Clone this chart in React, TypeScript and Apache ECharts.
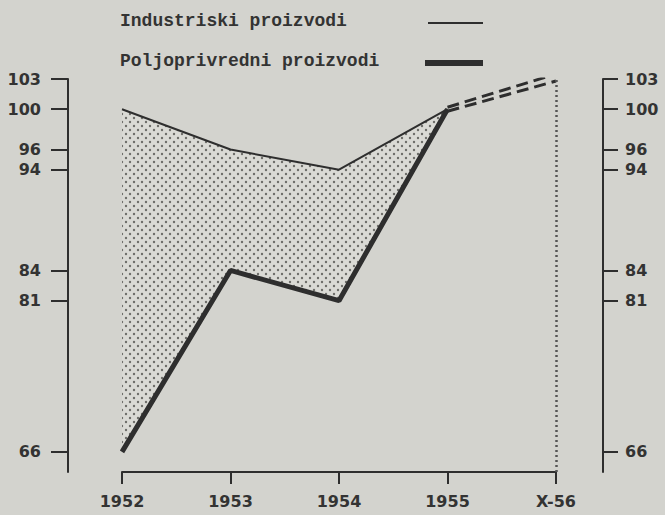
import React, { useEffect, useRef } from 'react';
import * as echarts from 'echarts';

const years = ['1952', '1953', '1954', '1955', 'X-56'];
const industrial: (number | null)[] = [100, 96, 94, 100, null];
const agricultural: (number | null)[] = [66, 84, 81, 100, null];
const industrialForecast: (number | null)[] = [null, null, null, 100.2, 103.5];
const agriculturalForecast: (number | null)[] = [null, null, null, 99.8, 102.8];
const yTicks = [66, 81, 84, 94, 96, 100, 103];
const legendLabels = ['Industriski proizvodi', 'Poljoprivredni proizvodi'];

const INK = '#2e2e2e';
const PAPER = '#d3d3ce';

function makePattern(): HTMLCanvasElement {
  const c = document.createElement('canvas');
  c.width = 8;
  c.height = 8;
  const ctx = c.getContext('2d')!;
  ctx.fillStyle = '#dadad5';
  ctx.fillRect(0, 0, 8, 8);
  ctx.fillStyle = '#6e6e6a';
  ctx.beginPath();
  ctx.arc(2, 2, 1.2, 0, Math.PI * 2);
  ctx.fill();
  ctx.beginPath();
  ctx.arc(6, 6, 1.2, 0, Math.PI * 2);
  ctx.fill();
  return c;
}

export default function App() {
  const ref = useRef<HTMLDivElement>(null);
  useEffect(() => {
    if (!ref.current) return;
    const chart = echarts.init(ref.current, null, { renderer: 'svg' });
    const diff = industrial.map((v, i) =>
      v == null || agricultural[i] == null ? null : (v as number) - (agricultural[i] as number)
    );
    const pattern = makePattern();
    const numFont = { fontFamily: 'DejaVu Sans', fontWeight: 'bold', fontSize: 16, color: '#333' };
    chart.setOption({
      animation: false,
      backgroundColor: PAPER,
      grid: { left: 122, right: 109, top: 79, bottom: 43 },
      graphic: [
        {
          type: 'text', left: 120, top: 12,
          style: { text: legendLabels[0], fontFamily: 'Liberation Mono', fontWeight: 'bold', fontSize: 18, fill: '#333' },
        },
        {
          type: 'text', left: 120, top: 52,
          style: { text: legendLabels[1], fontFamily: 'Liberation Mono', fontWeight: 'bold', fontSize: 18, fill: '#333' },
        },
        { type: 'line', shape: { x1: 428, y1: 23, x2: 483, y2: 23 }, style: { stroke: INK, lineWidth: 2 } },
        { type: 'line', shape: { x1: 425, y1: 63, x2: 483, y2: 63 }, style: { stroke: INK, lineWidth: 6 } },
      ],
      xAxis: {
        type: 'category',
        data: years,
        boundaryGap: false,
        axisLine: { lineStyle: { color: INK, width: 2 } },
        axisTick: { length: 12, lineStyle: { color: INK, width: 2 } },
        axisLabel: { ...numFont, margin: 21 },
        splitLine: { show: false },
      },
      yAxis: [
        {
          type: 'value', min: 64, max: 103, position: 'left', offset: 54,
          axisLine: { show: true, lineStyle: { color: INK, width: 2 } },
          axisTick: { show: true, length: 17, customValues: yTicks, lineStyle: { color: INK, width: 2 } },
          axisLabel: { ...numFont, lineHeight: 16, margin: 27, customValues: yTicks },
          splitLine: { show: false },
        },
        {
          type: 'value', min: 64, max: 103, position: 'right', offset: 47,
          axisLine: { show: true, lineStyle: { color: INK, width: 2 } },
          axisTick: { show: true, length: 15, customValues: yTicks, lineStyle: { color: INK, width: 2 } },
          axisLabel: { ...numFont, lineHeight: 16, margin: 22, customValues: yTicks },
          splitLine: { show: false },
        },
      ],
      series: [
        {
          type: 'line', data: agricultural, stack: 'band', symbol: 'none', silent: true,
          lineStyle: { opacity: 0 }, z: 1,
        },
        {
          type: 'line', data: diff, stack: 'band', symbol: 'none', silent: true,
          lineStyle: { opacity: 0 }, z: 1,
          areaStyle: { color: { image: pattern, repeat: 'repeat' }, opacity: 1 },
          markLine: {
            silent: true, symbol: 'none', label: { show: false },
            lineStyle: { type: [2, 3], color: '#555', width: 2.5 },
            data: [{ xAxis: 'X-56' }],
          },
        },
        {
          name: legendLabels[0], type: 'line', data: industrial, symbol: 'none', z: 3,
          lineStyle: { color: INK, width: 2 },
        },
        {
          name: legendLabels[1], type: 'line', data: agricultural, symbol: 'none', z: 3,
          lineStyle: { color: INK, width: 5 },
        },
        {
          type: 'line', data: industrialForecast, symbol: 'none', z: 3,
          lineStyle: { color: INK, width: 3, type: [12, 6] },
        },
        {
          type: 'line', data: agriculturalForecast, symbol: 'none', z: 3,
          lineStyle: { color: INK, width: 3, type: [12, 6] },
        },
      ],
    });
    return () => chart.dispose();
  }, []);
  return <div ref={ref} style={{ position: 'absolute', left: 0, top: 0, width: 665, height: 515 }} />;
}
